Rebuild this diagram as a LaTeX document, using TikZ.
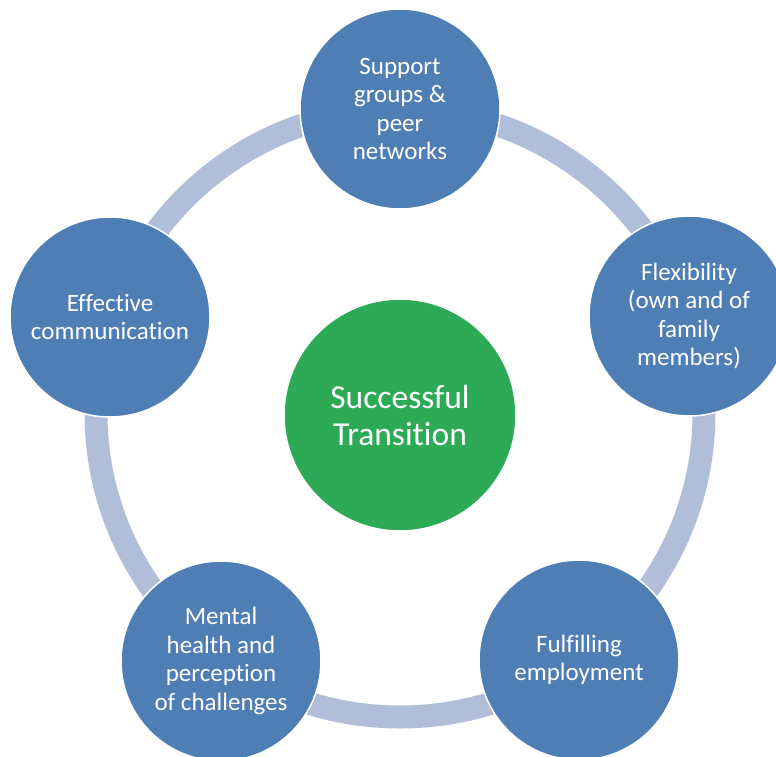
\documentclass[tikz,border=0pt]{standalone}
\usepackage{fontspec}
\setmainfont{Carlito}[Ligatures={NoCommon}]
\definecolor{ringc}{RGB}{176,190,217}
\definecolor{bluec}{RGB}{79,126,180}
\definecolor{greenc}{RGB}{44,170,85}
\begin{document}
\begin{tikzpicture}[x=1pt,y=-1pt,
  item/.style={circle,fill=bluec,draw=white,line width=1.5pt,minimum size=200pt,inner sep=0pt,
    text=white,align=center,font=\fontsize{25}{28.5}\selectfont},
  hub/.style={circle,fill=greenc,draw=white,line width=1.5pt,minimum size=232pt,inner sep=0pt,
    text=white,align=center,font=\fontsize{33.5}{37}\selectfont}]
\useasboundingbox (0,0) rectangle (776,757);
\clip (0,0) rectangle (776,757);
\coordinate (c) at (400,413);
\draw[ringc,line width=23pt] (c) circle[radius=304];
\node[hub] (hub) at (400,415) {Successful\\Transition};
\node[item] (sup) at (400,109) {Support\\groups \&\\peer\\networks};
\node[item] (flex) at (689,316) {Flexibility\\(own and of\\family\\members)};
\node[item] (ful) at (579,660) {Fulfilling\\employment};
\node[item] (men) at (221,661) {Mental\\health and\\perception\\of challenges};
\node[item] (eff) at (110,317) {Effective\\communication};
\end{tikzpicture}
\end{document}
